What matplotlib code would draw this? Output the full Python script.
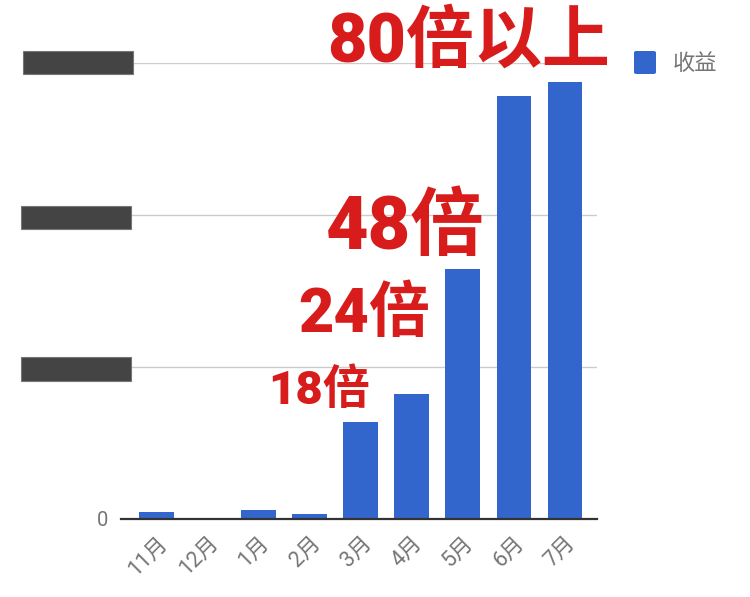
import matplotlib
matplotlib.use("Agg")
import matplotlib.pyplot as plt
from matplotlib.patches import Rectangle, FancyBboxPatch

plt.rcParams['font.family'] = ['Roboto', 'Noto Sans CJK SC', 'DejaVu Sans']

# ---- data ----
months = ["11月", "12月", "1月", "2月", "3月", "4月", "5月", "6月", "7月"]
revenue = [0.043, 0.0, 0.056, 0.03, 0.635, 0.819, 1.641, 2.78, 2.872]
series_name = "收益"
y_ticks = [0, 1, 2, 3]
y_tick_labels = ["0", "", "", ""]   # other labels are redacted in the source
callouts = ["80倍以上", "48倍", "24倍", "18倍"]

BLUE = "#3366cc"
RED = "#d81c1c"
GRAY = "#757575"

fig = plt.figure(figsize=(7.5, 5.97), dpi=100)
W, H = 750, 597

def fx(px):
    return px / W

def fy(py):
    return 1 - py / H

ax = fig.add_axes([fx(121), fy(518.5), fx(597) - fx(121), fy(63) - fy(518.5)])
x = list(range(len(months)))
ax.bar(x, revenue, width=0.667, color=BLUE, zorder=3)
ax.set_xlim(-0.696, 8.637)
ax.set_ylim(0, 3)

for s in ["top", "right", "left"]:
    ax.spines[s].set_visible(False)
ax.spines["bottom"].set_color("#333333")
ax.spines["bottom"].set_linewidth(1.6)
ax.spines["bottom"].set_zorder(4)

ax.set_yticks(y_ticks)
ax.set_yticklabels(y_tick_labels, color=GRAY, fontsize=14.5)
ax.tick_params(axis="y", length=0, pad=9)
ax.yaxis.grid(True, color="#cccccc", linewidth=1.0, zorder=0)
ax.set_axisbelow(True)

ax.set_xticks(x)
ax.set_xticklabels(months, rotation=45, ha="right", rotation_mode="anchor",
                   color=GRAY, fontsize=15.5)
ax.tick_params(axis="x", length=0, pad=10)

# redaction boxes over the hidden y tick labels
for top, bottom, left, right in [(51, 74, 23, 133), (206, 229, 21, 131), (357, 381, 21, 131)]:
    fig.patches.append(Rectangle((fx(left), fy(bottom)), fx(right) - fx(left), fy(top) - fy(bottom),
                                 transform=fig.transFigure, facecolor="#444444",
                                 edgecolor="#777777", linewidth=0.8, zorder=10))

# legend
fig.patches.append(FancyBboxPatch((fx(634), fy(74)), fx(656) - fx(634), fy(51) - fy(74),
                                  boxstyle="round,pad=0,rounding_size=0.003",
                                  transform=fig.transFigure, facecolor=BLUE,
                                  edgecolor="none", zorder=10))
fig.text(fx(673), fy(63), series_name, color=GRAY, fontsize=16, va="center", ha="left",
         family=['Noto Sans CJK SC', 'DejaVu Sans'])

# red call-outs
positions = [(469, 43, 49), (405, 229, 53), (364, 315, 44), (319, 391, 34)]
for txt, (px, py, fs) in zip(callouts, positions):
    fig.text(fx(px), fy(py), txt, color=RED, fontsize=fs, fontweight="black",
             ha="center", va="center", zorder=20)

fig.savefig("out.png", dpi=100)
